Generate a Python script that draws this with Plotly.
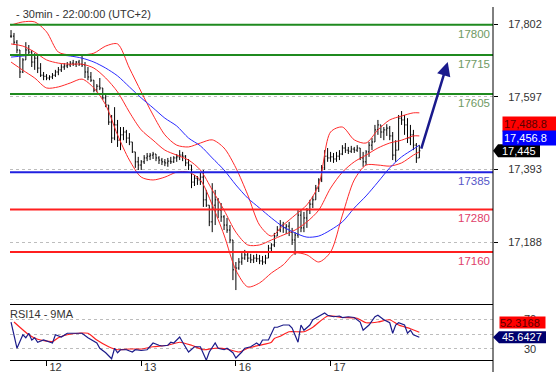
import plotly.graph_objects as go

# ---------------- data ----------------
title_text = "- 30min - 22:00:00 (UTC+2)"
day_ticks = [12, 44, 76, 108]
day_labels = ["12", "13", "16", "17"]
price_ticks = [17188, 17393, 17597, 17802]
green_levels = [17800, 17715, 17605]
blue_levels = [17385]
red_levels = [17280, 17160]

high = [17785,17777,17757,17723,17706,17751,17743,17729,17720,17712,
        17692,17667,17661,17658,17664,17673,17681,17689,17692,17695,
        17698,17701,17698,17701,17715,17695,17681,17667,17644,17633,
        17650,17622,17602,17571,17546,17568,17532,17512,17512,17504,
        17495,17470,17439,17428,17419,17433,17439,17439,17442,17436,
        17430,17425,17422,17425,17428,17430,17436,17447,17442,17433,
        17422,17405,17377,17374,17385,17391,17335,17292,17354,17335,
        17312,17298,17264,17256,17236,17185,17132,17143,17157,17166,
        17160,17155,17152,17155,17152,17149,17152,17180,17185,17214,
        17233,17250,17245,17239,17245,17228,17216,17278,17278,17273,
        17284,17307,17318,17349,17368,17405,17447,17453,17442,17439,
        17442,17447,17461,17467,17456,17459,17456,17461,17453,17442,
        17447,17470,17481,17518,17532,17518,17512,17520,17515,17498,
        17475,17546,17557,17546,17537,17518,17504,17467,17461]
low = [17763,17743,17720,17650,17664,17706,17715,17681,17673,17664,
       17653,17644,17644,17644,17647,17653,17658,17667,17673,17678,
       17681,17684,17681,17684,17681,17650,17644,17639,17610,17610,
       17616,17588,17568,17518,17467,17475,17456,17447,17475,17467,
       17461,17439,17397,17391,17391,17408,17416,17419,17422,17416,
       17408,17405,17402,17400,17408,17411,17414,17419,17416,17402,
       17391,17340,17346,17349,17349,17287,17287,17233,17216,17236,
       17256,17245,17222,17214,17185,17081,17053,17110,17124,17138,
       17132,17129,17129,17132,17126,17124,17126,17143,17160,17174,
       17205,17216,17214,17211,17205,17180,17152,17200,17216,17216,
       17228,17267,17284,17307,17329,17357,17391,17414,17414,17411,
       17414,17419,17433,17439,17436,17439,17439,17442,17419,17400,
       17405,17428,17447,17470,17490,17481,17475,17487,17475,17419,
       17414,17461,17518,17490,17467,17461,17447,17411,17425]
close = [17768,17751,17729,17667,17701,17729,17723,17695,17706,17678,
         17658,17655,17650,17653,17658,17667,17673,17681,17684,17687,
         17692,17689,17695,17689,17687,17667,17653,17644,17616,17627,
         17622,17594,17574,17526,17481,17518,17475,17490,17498,17481,
         17470,17442,17414,17405,17414,17425,17430,17433,17436,17425,
         17419,17414,17411,17416,17414,17425,17428,17433,17430,17411,
         17405,17357,17368,17363,17371,17307,17292,17245,17292,17307,
         17278,17259,17236,17222,17194,17110,17115,17132,17143,17152,
         17143,17138,17143,17141,17135,17132,17143,17171,17180,17205,
         17222,17236,17228,17233,17216,17194,17208,17264,17228,17256,
         17278,17295,17307,17340,17363,17397,17430,17425,17428,17422,
         17430,17436,17453,17447,17444,17450,17447,17453,17425,17414,
         17442,17461,17470,17504,17518,17498,17504,17509,17487,17433,
         17447,17537,17532,17518,17481,17490,17461,17425,17445]

band_idx = [0,4,8,12,16,20,24,28,32,36,40,44,48,52,56,60,64,68,72,76,
            80,84,88,92,96,100,104,108,112,116,120,124,128,132,136,138]
bb_upper = [17799,17808,17808,17780,17723,17715,17715,17720,17740,17746,
            17678,17611,17546,17490,17461,17456,17467,17476,17453,17397,
            17321,17236,17205,17236,17264,17293,17349,17498,17512,17476,
            17467,17504,17532,17543,17552,17552]
bb_mid = [17746,17740,17723,17701,17692,17689,17689,17678,17650,17611,
          17554,17504,17475,17447,17433,17419,17391,17335,17278,17216,
          17180,17180,17194,17208,17222,17245,17278,17340,17385,17414,
          17433,17453,17467,17475,17487,17487]
bb_lower = [17695,17672,17650,17622,17625,17636,17647,17622,17574,17490,
            17419,17371,17363,17371,17385,17385,17363,17293,17208,17109,
            17062,17073,17101,17124,17157,17152,17132,17160,17264,17363,
            17405,17405,17402,17411,17433,17442]
ma_blue = [17709,17712,17715,17715,17715,17712,17706,17695,17678,17656,
           17625,17594,17566,17537,17515,17481,17459,17425,17391,17349,
           17312,17284,17256,17231,17214,17202,17205,17222,17245,17284,
           17318,17357,17397,17428,17450,17461]

rsi_idx = [0,2,4,5,6,7,8,9,11,14,15,17,19,21,23,24,26,28,29,30,32,34,35,36,37,
           39,41,42,44,46,48,50,51,53,54,55,57,58,60,62,64,66,67,69,70,72,73,
           75,76,78,79,81,83,84,85,87,88,89,90,92,94,95,97,98,99,101,102,104,
           106,107,109,111,112,114,116,118,119,121,123,124,126,128,129,130,131,
           133,134,135,136,138]
rsi_val = [66,31,49,45,51,42,45,39,42,38,49,46,51,51,51,51,45,40,38,31,25,17,31,25,29,
           29,26,29,28,29,38,35,34,35,39,38,46,39,26,33,33,15,26,38,31,29,31,
           25,18,26,31,33,38,35,42,42,51,59,59,62,62,58,39,62,55,62,69,73,
           78,75,73,74,72,73,72,66,55,62,73,75,69,65,51,62,65,
           62,51,55,49,45.6427]
rsima_idx = [1,6,9,14,16,19,23,26,29,33,36,40,44,48,53,57,61,65,69,73,77,80,84,88,
             89,91,94,99,102,107,112,117,120,124,128,131,135,138]
rsima_val = [66,49,43,40,45,49,51,51,42,33,29,30,30,33,35,39,35,29,31,30,26,31,35,39,
             44,47,53,53,59,74,72,71,65,66,69,62,57,52.3168]

last_price = 17445
bb_tag = 17488.8
ma_tag = 17456.8
rsi_tag = 45.6427
rsima_tag = 52.3168
arrow_from = (138.5, 17447)
arrow_to = (147.6, 17695)

# ---------------- figure ----------------
W, H = 556, 381
PX_L, PX_R = 10, 493
MAIN_TOP, MAIN_BOT = 7, 300
RSI_TOP, RSI_BOT = 305, 360

def fx(px):
    return px / W

def fy(py):
    return 1 - py / H

idx = list(range(len(close)))
opens = [close[0]] + close[:-1]
hi = [max(h, o, c) for h, o, c in zip(high, opens, close)]
lo = [min(l, o, c) for l, o, c in zip(low, opens, close)]

fig = go.Figure()
fig.add_trace(go.Ohlc(x=idx, open=opens, high=hi, low=lo, close=close,
                      increasing_line_color="#000000", decreasing_line_color="#000000",
                      line_width=1, tickwidth=0.35, xaxis="x", yaxis="y"))
for arr, col in [(bb_upper, "#ff2a2a"), (bb_mid, "#ff2a2a"), (bb_lower, "#ff2a2a"), (ma_blue, "#2a2aff")]:
    fig.add_trace(go.Scatter(x=band_idx, y=arr, mode="lines",
                             line=dict(color=col, width=1, shape="spline", smoothing=0.8),
                             xaxis="x", yaxis="y", hoverinfo="skip"))

fig.add_trace(go.Scatter(x=rsima_idx, y=rsima_val, mode="lines",
                         line=dict(color="#ff2020", width=1.2, shape="spline", smoothing=0.6),
                         xaxis="x2", yaxis="y2"))
fig.add_trace(go.Scatter(x=rsi_idx, y=rsi_val, mode="lines",
                         line=dict(color="#1c1c8a", width=1.2),
                         xaxis="x2", yaxis="y2"))

shapes = []
annos = []
FONT = "Liberation Sans, Arial, sans-serif"

def level(vals, col, tcol):
    for v in vals:
        shapes.append(dict(type="line", xref="x domain", x0=0, x1=1, yref="y", y0=v, y1=v,
                           line=dict(color=col, width=2), layer="above"))
        annos.append(dict(xref="x domain", x=0.997, xanchor="right", yref="y", y=v,
                          yanchor="top", yshift=-1, text=str(v), showarrow=False,
                          font=dict(family=FONT, size=11.5, color=tcol)))

level(green_levels, "#1f8a1f", "#6f9a63")
level(blue_levels, "#2020e0", "#5656c8")
level(red_levels, "#ff1f1f", "#e0406a")

# right axis line (full height)
shapes.append(dict(type="line", xref="paper", x0=fx(PX_R), x1=fx(PX_R), yref="paper",
                   y0=fy(372), y1=fy(MAIN_TOP), line=dict(color="#000000", width=1)))

# price tags
annos.append(dict(xref="paper", x=fx(502), xanchor="left", yref="y", y=bb_tag, yshift=11,
                  text=f"{bb_tag:,.1f}", showarrow=False, bgcolor="#ff0000", width=56, height=12,
                  align="left", borderpad=1, font=dict(family=FONT, size=11, color="#5a0000")))
annos.append(dict(xref="paper", x=fx(502), xanchor="left", yref="y", y=ma_tag, yshift=9,
                  text=f"{ma_tag:,.1f}", showarrow=False, bgcolor="#0000ff", width=56, height=12,
                  align="left", borderpad=1, font=dict(family=FONT, size=11, color="#ffffff")))
shapes.append(dict(type="path", xref="paper", xsizemode="pixel", xanchor=fx(PX_R),
                   yref="y", ysizemode="pixel", yanchor=last_price,
                   path="M0,0 L5,6.5 L47,6.5 L47,-6.5 L5,-6.5 Z",
                   fillcolor="#000000", line=dict(width=0)))
annos.append(dict(xref="paper", x=fx(519), xanchor="center", yref="y", y=last_price,
                  text=f"{last_price:,}", showarrow=False,
                  font=dict(family=FONT, size=11, color="#ffffff")))

annos.append(dict(xref="paper", x=fx(499), xanchor="left", yref="y2", y=rsima_tag, yshift=10,
                  text=f"{rsima_tag:.4f}", showarrow=False, bgcolor="#ff0000", width=45, height=11,
                  align="left", borderpad=0, font=dict(family=FONT, size=11, color="#5a0000")))
shapes.append(dict(type="path", xref="paper", xsizemode="pixel", xanchor=fx(PX_R),
                   yref="y2", ysizemode="pixel", yanchor=rsi_tag,
                   path="M0,0 L6,6 L53,6 L53,-6 L6,-6 Z",
                   fillcolor="#00006e", line=dict(width=0)))
annos.append(dict(xref="paper", x=fx(522), xanchor="center", yref="y2", y=rsi_tag,
                  text=f"{rsi_tag:.4f}", showarrow=False,
                  font=dict(family=FONT, size=11, color="#ffffff")))

# titles
annos.append(dict(xref="paper", x=fx(14), xanchor="left", yref="paper", y=fy(14), yanchor="middle",
                  text=title_text, showarrow=False, font=dict(family=FONT, size=11, color="#333333")))
annos.append(dict(xref="paper", x=fx(8), xanchor="left", yref="paper", y=fy(314), yanchor="middle",
                  text="RSI14 - 9MA", showarrow=False, font=dict(family=FONT, size=11, color="#333333")))

# arrow
annos.append(dict(xref="x", yref="y", x=arrow_to[0], y=arrow_to[1],
                  axref="x", ayref="y", ax=arrow_from[0], ay=arrow_from[1],
                  showarrow=True, arrowhead=2, arrowsize=1.1, arrowwidth=2.5,
                  arrowcolor="#1a1a8c", text=""))

fig.update_layout(
    template="none",
    width=W, height=H, margin=dict(l=0, r=0, t=0, b=0, pad=0, autoexpand=False),
    paper_bgcolor="#ffffff", plot_bgcolor="#ffffff", showlegend=False,
    font=dict(family=FONT, size=11, color="#333333"),
    shapes=shapes, annotations=annos,
    xaxis=dict(domain=[fx(PX_L), fx(PX_R)], range=[-0.35, 162.9], anchor="y", automargin=False,
               showticklabels=False, showgrid=False, zeroline=False, showline=False, ticks="",
               rangeslider=dict(visible=False), fixedrange=True),
    yaxis=dict(domain=[fy(MAIN_BOT), fy(MAIN_TOP)], range=[17025, 17850], side="right",
               anchor="x", automargin=False, tickvals=price_ticks,
               ticktext=[f"{v:,}" for v in price_ticks],
               ticks="outside", ticklen=4, tickwidth=1, tickcolor="#000000", ticklabelstandoff=8,
               showgrid=True, gridcolor="#bdbdbd", griddash="dot", gridwidth=1,
               zeroline=False, showline=False,
               tickfont=dict(family=FONT, size=11, color="#333333")),
    xaxis2=dict(domain=[fx(PX_L), fx(PX_R)], range=[-0.35, 162.9], anchor="y2", automargin=False,
                tickvals=day_ticks, ticktext=day_labels, ticks="outside", ticklen=5, tickwidth=1,
                tickcolor="#000000", ticklabelshift=9, ticklabelstandoff=-8,
                showline=True, mirror=True, linecolor="#000000", linewidth=1,
                showgrid=False, zeroline=False,
                tickfont=dict(family=FONT, size=11, color="#333333")),
    yaxis2=dict(domain=[fy(RSI_BOT), fy(RSI_TOP)], range=[15.3, 88.7], side="right",
                anchor="x2", automargin=False, tickvals=[30, 50, 70], ticktext=["30", "", "70"],
                ticks="", ticklabelstandoff=30, showgrid=True, gridcolor="#bdbdbd", griddash="dot",
                zeroline=False, showline=False,
                tickfont=dict(family=FONT, size=11, color="#333333")),
)

fig.write_html("out.html", config={"displayModeBar": False, "staticPlot": True},
               post_script="document.body.style.margin='0';document.body.style.overflow='hidden';")
